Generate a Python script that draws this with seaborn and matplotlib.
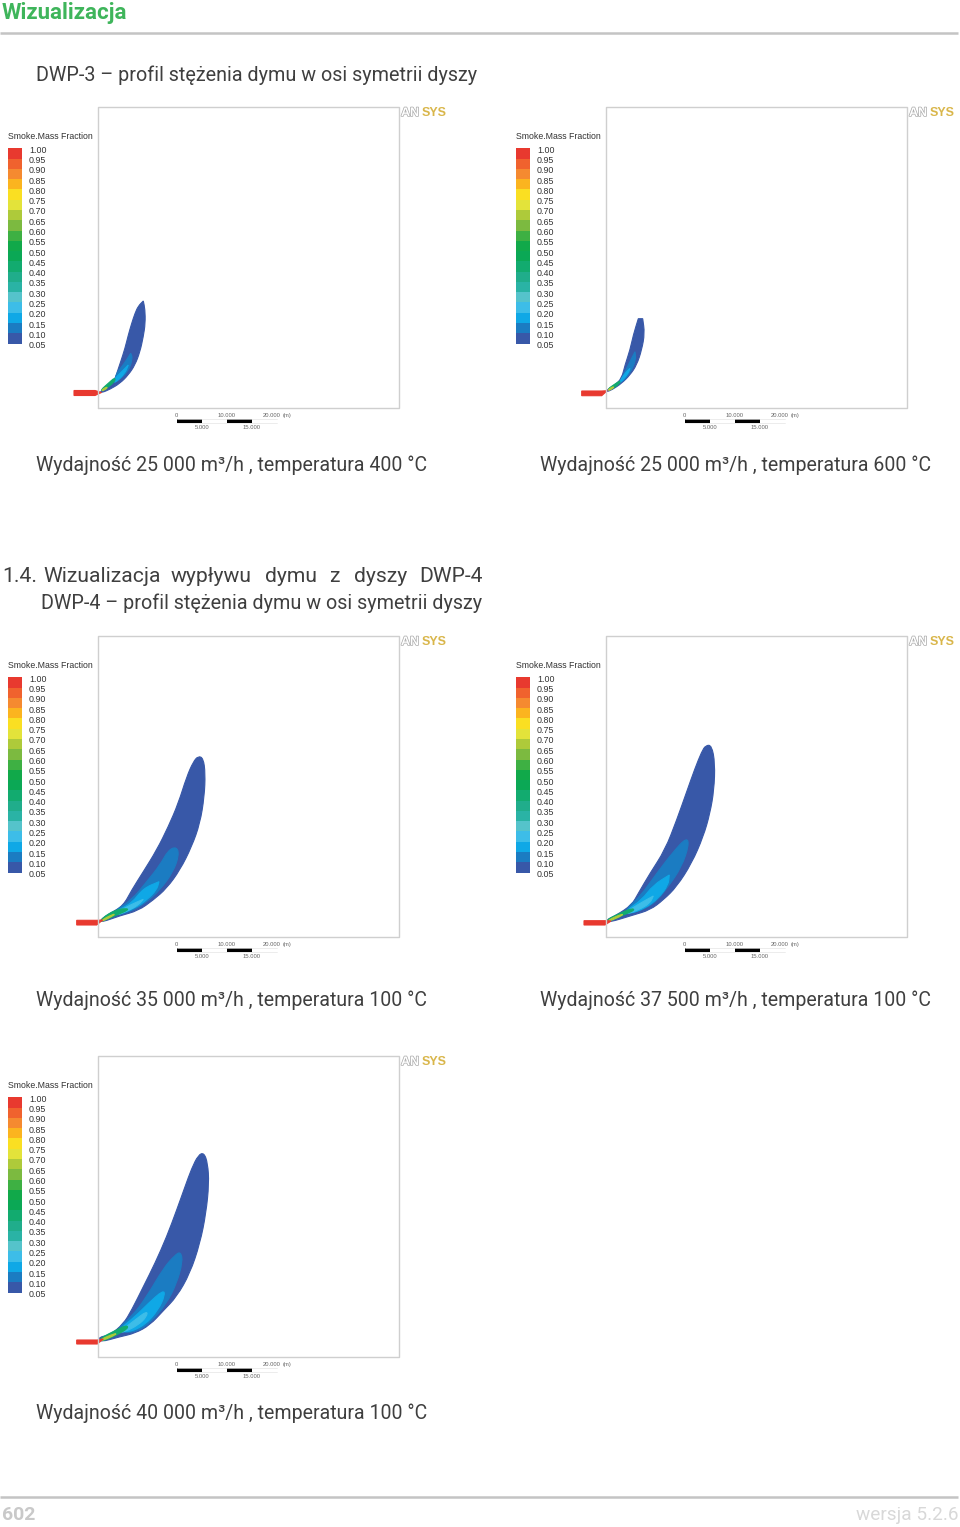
import matplotlib
matplotlib.use("Agg")
import matplotlib.patheffects as pe
import matplotlib.pyplot as plt
import numpy as np
import seaborn as sns
from matplotlib.colors import ListedColormap
from matplotlib.patches import PathPatch
from matplotlib.path import Path

PAGE_W, PAGE_H = 960, 1527
TEXT_FONT = ["Roboto", "DejaVu Sans"]
LABEL_FONT = ["Liberation Sans", "DejaVu Sans"]

LEVEL_LABELS = ["1.00", "0.95", "0.90", "0.85", "0.80", "0.75", "0.70", "0.65", "0.60", "0.55",
                "0.50", "0.45", "0.40", "0.35", "0.30", "0.25", "0.20", "0.15", "0.10", "0.05"]
BAND_COLORS = ["#e8392f", "#f0622e", "#f58a30", "#fbb41f", "#fadf22", "#e3e33a", "#aeca3a",
               "#7cba40", "#3eb043", "#11a94a", "#0ba855", "#12ab6f", "#20ad8b", "#2ab3a5",
               "#55c3cb", "#3dbde8", "#0fa8e6", "#1b7cc2", "#3858a8"]

# scale bar, metres
SCALE_EDGES = [0, 5000, 10000, 15000, 20000]
SCALE_TOP = ["0", "10.000", "20.000"]
SCALE_TOP_AT = [0, 10000, 19000]
SCALE_BOTTOM = ["5.000", "15.000"]
SCALE_BOTTOM_AT = [5000, 15000]

# plume contours (a repeated point keeps a sharp tip)
P1_NOZZLE = [(-24, 17.5), (-3, 17.5), (3.5, 15.5), (-3, 12.5), (-24, 12.5)]
P1_OUTER = [(2, 16.3), (8.7, 22), (17, 28.7), (19.3, 36.3), (22.7, 46.3), (27, 59.7), (30.3, 73),
            (33.7, 84.7), (37, 94.7), (40.3, 102), (45.3, 107), (45.3, 107), (47, 98.7), (47.3, 84.7),
            (45.3, 71.3), (42, 56.3), (37, 43), (30.3, 33), (22, 24.7), (12, 18.7), (3.7, 15.3)]
P1_MID = [(17, 33), (25.3, 43), (32.7, 54.7), (32.7, 54.7), (34.7, 49.7), (30.3, 36.3), (18.7, 26.3)]
P1_CYAN = [(15.3, 28), (23.7, 36.3), (30.3, 43), (30.3, 43), (27, 34.7), (17, 24.7)]
P1_GREEN = [(2.7, 18), (10.3, 24.7), (17, 30.7), (17, 26.3), (5.3, 17.3)]
P1_CORE = [(3.7, 18), (8.7, 21.3), (9.3, 19.7), (4.3, 17)]

P2_NOZZLE = [(-24.3, 17), (-4.3, 17), (1.3, 17.3), (-4.3, 12.3), (-24.3, 12.3)]
P2_OUTER = [(0.7, 18), (9, 23), (15.7, 29.7), (19, 43), (24, 58), (27.3, 73), (32.3, 89.3), (32.3, 89.3),
            (36.7, 89.3), (36.7, 89.3), (38.7, 74.7), (35.7, 58), (30.7, 43), (24, 33), (15.7, 24.7),
            (5.7, 18), (0.7, 16.3)]
P2_MID = [(15.7, 29.7), (22.3, 43), (29, 56.3), (29, 56.3), (30, 48), (24, 34.7), (15.7, 25.3)]
P2_CYAN = [(14, 27.3), (19, 34.7), (24, 39.7), (24, 39.7), (22.3, 34.7), (14, 24.7)]
P2_GREEN = [(1.3, 18.7), (9, 24), (14, 27.3), (14, 24.7), (5.7, 18.7)]
P2_CORE = [(2, 18.3), (7, 21.5), (8, 20.5), (3, 17.3)]

P3_NOZZLE = [(-21.3, 16.7), (-1.3, 16.7), (4.7, 17), (-1.3, 12), (-21.3, 12)]
P3_OUTER = [(2, 17), (12, 23.7), (25.3, 31.3), (33.7, 47), (45.3, 65.3), (58.7, 87), (70.3, 110.3),
            (80.3, 133.7), (88.7, 160.3), (95.3, 175.3), (100.3, 181), (105.3, 178.7),
            (107.3, 163.7), (106.3, 140.3), (102, 113.7), (93.7, 90.3), (82, 67), (68.7, 48.7),
            (55.3, 37), (40.3, 26.3), (22, 21.3), (3.7, 14.7)]
P3_MID = [(15.3, 25.3), (33.7, 37), (48.7, 55.3), (62, 72), (70.3, 87), (78.7, 90.3), (81, 82),
          (75.3, 65.3), (62, 47), (47, 33.7), (33.7, 26), (17, 21)]
P3_CYAN = [(18.7, 26.3), (33.7, 33.7), (45.3, 48.7), (61, 55.3), (61, 55.3), (58.7, 47), (48.7, 37),
           (37, 28.7), (18.7, 22)]
P3_LIGHT = [(18.7, 24.3), (32, 32), (45.3, 37.7), (45.3, 37.7), (40.3, 32), (30.3, 26.3), (18.7, 21.7)]
P3_GREEN = [(3.7, 18.7), (17, 27), (28.7, 28.7), (30.3, 27), (18.7, 22), (3.7, 15.3)]
P3_CORE = [(3.7, 17), (15.3, 23), (17, 22.3), (3.7, 15.3)]

P4_NOZZLE = [(-22, 16.3), (-1, 16.3), (5, 16), (-1, 12), (-22, 12)]
P4_OUTER = [(0, 17), (10.7, 22), (25.7, 32), (32.3, 43.7), (44, 63.7), (59, 87), (70.7, 117),
            (80.7, 145.3), (89, 168.7), (95.7, 185.3), (99.7, 191.7), (105.7, 191.7), (109, 173.7),
            (108, 147), (104, 123.7), (97.3, 100.3), (85.7, 73.7), (70.7, 50.3), (57.3, 37),
            (44, 27), (27.3, 22), (2.3, 14.3)]
P4_MID = [(19, 27), (34, 40.3), (50.7, 63.7), (67.3, 85.3), (80.7, 99.7), (83, 92), (75.7, 70.3),
          (62.3, 50.3), (47.3, 32), (24, 22.7)]
P4_CYAN = [(20.7, 27), (35.7, 37), (47.3, 52), (63.3, 62), (63.3, 62), (62.3, 52), (52.3, 38.7), (39, 28.7),
           (22.3, 22.7)]
P4_LIGHT = [(20.7, 25.3), (34, 33.7), (47.3, 41), (47.3, 41), (44, 33.7), (32.3, 27), (20.7, 23)]
P4_GREEN = [(1.3, 17.7), (14, 23.7), (25.7, 28.7), (29, 27), (19, 22.7), (2.3, 15.3)]
P4_CORE = [(2.3, 17), (15.7, 23), (17.3, 22), (3.3, 15.7)]

P5_NOZZLE = [(-21.3, 17), (-0.7, 17), (5.3, 18), (-0.7, 13), (-21.3, 13)]
P5_OUTER = [(0.3, 19.7), (12, 22), (25.3, 33), (33.7, 47), (45.3, 70.3), (57, 93.7), (68.7, 120.3),
            (78.7, 147), (87, 170.3), (93.7, 188.7), (100.3, 202), (106, 204.3), (109.7, 193.7),
            (111, 173.7), (108, 143.7), (102, 113.7), (92, 83.7), (78.7, 60.3), (65.3, 46.3),
            (52, 32), (37, 23.7), (22, 20.3), (2, 14.7)]
P5_MID = [(17, 26.3), (33.7, 40.3), (48.7, 60.3), (65.3, 88.7), (77, 102), (82.7, 105.3),
          (84.7, 95.3), (78.7, 73.7), (68.7, 53.7), (52, 33.7), (35.3, 23.7)]
P5_CYAN = [(20.3, 27), (37, 40.3), (50.3, 53.7), (65.3, 67), (67, 62), (60.3, 47), (47, 32),
           (30.3, 24.3)]
P5_LIGHT = [(20.3, 24.3), (37, 37), (49.3, 46.3), (48.7, 40.3), (40.3, 32), (27, 25.3)]
P5_GREEN = [(2, 18.7), (17, 26.3), (28.7, 32), (30.3, 28.7), (18.7, 22), (3.7, 15.3)]
P5_CORE = [(2.7, 17.7), (17, 23.7), (18.7, 22.7), (3.7, 16)]

CAPTIONS = ["Wydajność 25 000 m³/h , temperatura 400 °C",
            "Wydajność 25 000 m³/h , temperatura 600 °C",
            "Wydajność 35 000 m³/h , temperatura 100 °C",
            "Wydajność 37 500 m³/h , temperatura 100 °C",
            "Wydajność 40 000 m³/h , temperatura 100 °C"]
HEADING_WORDS = ["1.4.", "Wizualizacja", "wypływu", "dymu", "z", "dyszy", "DWP-4"]
HEADING_X = [2, 43, 171, 265, 329, 354, 419]

# frame left, frame bottom, contours by band index
PANELS = [
    (98, 408, [(18, P1_OUTER), (17, P1_MID), (16, P1_CYAN), (11, P1_GREEN), (6, P1_CORE)], P1_NOZZLE),
    (606, 408, [(18, P2_OUTER), (17, P2_MID), (16, P2_CYAN), (11, P2_GREEN), (6, P2_CORE)], P2_NOZZLE),
    (98, 937, [(18, P3_OUTER), (17, P3_MID), (16, P3_CYAN), (15, P3_LIGHT), (11, P3_GREEN), (6, P3_CORE)], P3_NOZZLE),
    (606, 937, [(18, P4_OUTER), (17, P4_MID), (16, P4_CYAN), (15, P4_LIGHT), (11, P4_GREEN), (6, P4_CORE)], P4_NOZZLE),
    (98, 1357, [(18, P5_OUTER), (17, P5_MID), (16, P5_CYAN), (15, P5_LIGHT), (11, P5_GREEN), (6, P5_CORE)], P5_NOZZLE),
]
CAPTION_POS = [(36, 465), (540, 465), (36, 1000), (540, 1000), (36, 1413)]

FRAME = 301
M_TO_PX = 0.005


def add_axes_px(fig, left, top, width, height, **kwargs):
    return fig.add_axes([left / PAGE_W, 1 - (top + height) / PAGE_H, width / PAGE_W, height / PAGE_H], **kwargs)


def smooth_patch(points, color):
    # quadratic curve through the midpoints, the read points are the control points
    pts = np.array(points, dtype=float)
    mids = (pts + np.roll(pts, -1, axis=0)) / 2
    verts = [mids[-1]]
    codes = [Path.MOVETO]
    for ctrl, end in zip(pts, mids):
        verts += [ctrl, end]
        codes += [Path.CURVE3, Path.CURVE3]
    return PathPatch(Path(verts, codes), facecolor=color, edgecolor=color, lw=0.8)


def draw_legend(fig, frame_left, frame_top):
    ax = add_axes_px(fig, frame_left - 90, frame_top + 41.3, 14, 196.3)
    levels = np.arange(len(BAND_COLORS)).reshape(-1, 1)
    sns.heatmap(levels, cmap=ListedColormap(sns.color_palette(BAND_COLORS)), cbar=False, ax=ax,
                xticklabels=False, yticklabels=False)
    ax.set_yticks(np.arange(len(LEVEL_LABELS)) + 0.1, LEVEL_LABELS, rotation=0)
    ax.yaxis.tick_right()
    ax.tick_params(axis="y", length=0, pad=5, labelsize=6.4, labelcolor="#333333")
    for label in ax.get_yticklabels():
        label.set_family(LABEL_FONT)


def draw_scale(ax):
    x0 = 78.7
    edges = x0 + np.array(SCALE_EDGES) * M_TO_PX
    ax.plot([edges[0], edges[-1]], [-15.2, -15.2], color="#e4e4e4", lw=0.5)
    ax.plot([edges[0], edges[-1]], [-11.4, -11.4], color="#e4e4e4", lw=0.5)
    for i in (0, 2):
        ax.fill_between([edges[i], edges[i + 1]], -15.3, -11.3, color="black", lw=0)
    style = dict(ha="center", va="center", fontsize=4.2, color="#666666", family=LABEL_FONT)
    for lab, at in zip(SCALE_TOP, SCALE_TOP_AT):
        ax.text(x0 + at * M_TO_PX, -7.5, lab, **style)
    ax.text(x0 + 22000 * M_TO_PX, -7.5, "(m)", **style)
    for lab, at in zip(SCALE_BOTTOM, SCALE_BOTTOM_AT):
        ax.text(x0 + at * M_TO_PX, -19.3, lab, **style)


def draw_logo(ax):
    stroke = [pe.withStroke(linewidth=1.0, foreground="#a8a8a8")]
    ax.text(303, 295, "AN", ha="left", va="center", fontsize=9, weight="bold", color="white",
            family=LABEL_FONT, path_effects=stroke)
    ax.text(349, 295, "SYS", ha="right", va="center", fontsize=9, weight="bold", color="#d9b64a",
            family=LABEL_FONT)


def draw_panel(fig, frame_left, frame_bottom, contours, nozzle):
    ax = add_axes_px(fig, frame_left - 98, frame_bottom - FRAME - 10, 452, FRAME + 50)
    ax.set_xlim(-98, 354)
    ax.set_ylim(-40, FRAME + 10)
    ax.axis("off")
    ax.plot([0, FRAME, FRAME, 0, 0], [0, 0, FRAME, FRAME, 0], color="#cfcfcf", lw=1.0)
    for band, pts in contours:
        ax.add_patch(smooth_patch(pts, BAND_COLORS[band]))
    xs, ys = zip(*nozzle)
    ax.fill(xs, ys, color=BAND_COLORS[0], lw=0.8)
    ax.text(-90, FRAME - 29.5, "Smoke.Mass Fraction", ha="left", va="center", fontsize=6.35, color="#333333",
            family=LABEL_FONT)
    draw_scale(ax)
    draw_logo(ax)
    draw_legend(fig, frame_left, frame_bottom - FRAME)


sns.set_theme(style="white")
plt.rcParams["font.family"] = TEXT_FONT

fig = plt.figure(figsize=(PAGE_W / 100, PAGE_H / 100), dpi=100, facecolor="white")

page = add_axes_px(fig, 0, 0, PAGE_W, PAGE_H)
page.set_xlim(0, PAGE_W)
page.set_ylim(PAGE_H, 0)
page.axis("off")

TEXT_COLOR = "#3f3f3f"
page.text(2, 13.5, "Wizualizacja", fontsize=16, weight="bold", color="#3fb55b", va="center")
page.hlines([33, 1497], 0, 958, color="#c4c4c4", lw=1.8)
page.text(36, 75, "DWP-3 – profil stężenia dymu w osi symetrii dyszy", fontsize=14.25, color=TEXT_COLOR, va="center")
for word, x in zip(HEADING_WORDS, HEADING_X):
    page.text(x, 577, word, fontsize=15.2, color=TEXT_COLOR, va="center")
page.text(41, 603, "DWP-4 – profil stężenia dymu w osi symetrii dyszy", fontsize=14.25, color=TEXT_COLOR, va="center")
for caption, (x, y) in zip(CAPTIONS, CAPTION_POS):
    page.text(x, y, caption, fontsize=14.05, color=TEXT_COLOR, va="center")
page.text(2, 1515, "602", fontsize=14, weight="bold", color="#c9c9c9", va="center")
page.text(958, 1515, "wersja 5.2.6", fontsize=13.7, color="#d8d8d8", va="center", ha="right")

for frame_left, frame_bottom, contours, nozzle in PANELS:
    draw_panel(fig, frame_left, frame_bottom, contours, nozzle)

fig.savefig("out.png", dpi=100, facecolor="white")
